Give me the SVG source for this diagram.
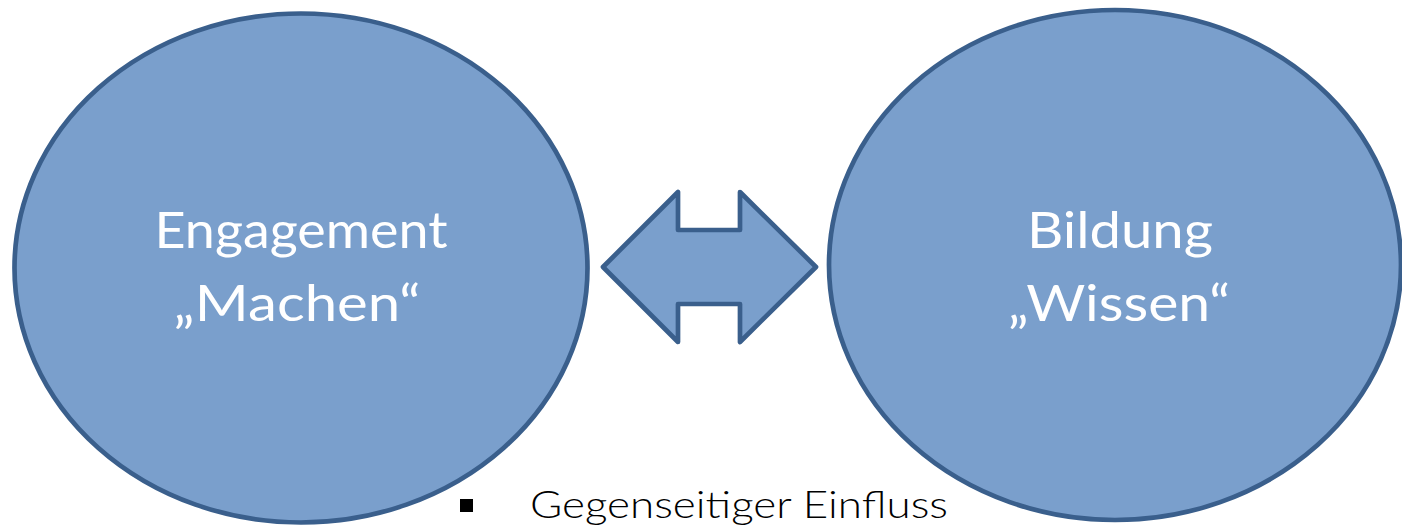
<svg xmlns="http://www.w3.org/2000/svg" width="1402" height="527" viewBox="0 0 1402 527">
<style>
.shape{fill:#7a9fcc;stroke:#3a5f8c;stroke-width:4.7;stroke-linejoin:round}
.lbl{font-family:Lato,"Open Sans","Liberation Sans",sans-serif;font-size:50px;fill:#ffffff;text-anchor:middle}
.body{font-family:Lato,"Open Sans","Liberation Sans",sans-serif;font-size:38px;font-weight:300;fill:#000000}
</style>
<rect width="1402" height="527" fill="#ffffff"/>
<g id="node-engagement">
<ellipse class="shape" cx="301" cy="268" rx="286.5" ry="254.5"/>
<text class="lbl" x="301" y="248" textLength="293" lengthAdjust="spacingAndGlyphs">Engagement</text>
<text class="lbl" x="297" y="321" textLength="247" lengthAdjust="spacingAndGlyphs">„Machen“</text>
</g>
<g id="node-bildung">
<ellipse class="shape" cx="1115" cy="265" rx="286" ry="255"/>
<text class="lbl" x="1120" y="248" textLength="186" lengthAdjust="spacingAndGlyphs">Bildung</text>
<text class="lbl" x="1119" y="321" textLength="222" lengthAdjust="spacingAndGlyphs">„Wissen“</text>
</g>
<g id="connectors">
<polygon class="shape" points="603,267 678,192 678,230 740,230 740,192 816,267 740,342 740,304 678,304 678,342"/>
</g>
<g id="note">
<rect x="460" y="499" width="13" height="13" fill="#000000"/>
<text class="body" x="530" y="518" textLength="418" lengthAdjust="spacingAndGlyphs">Gegenseitiger Einfluss</text>
</g>
</svg>
